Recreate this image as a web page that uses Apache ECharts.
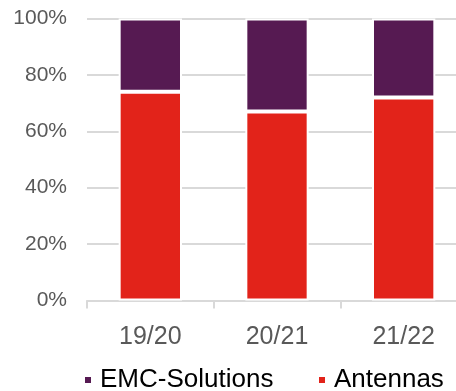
<!DOCTYPE html>
<html>
<head>
<meta charset="utf-8">
<script src="https://cdn.jsdelivr.net/npm/echarts@6/dist/echarts.min.js"></script>
<style>
  html, body { margin: 0; padding: 0; background: #ffffff; }
  #chart { width: 456px; height: 391px; }
</style>
</head>
<body>
<div id="chart"></div>
<script>
// Fiscal years on the category axis
var categories = ['19/20', '20/21', '21/22'];
// Revenue share per segment, in percent
var antennas = [74, 67, 72];
var emcSolutions = [26, 33, 28];
// Value axis ticks
var yTicks = [0, 20, 40, 60, 80, 100];

var FONT = '"Liberation Sans", Arial, sans-serif';
var RED = '#e2231a';
var PURPLE = '#561a52';

var chart = echarts.init(document.getElementById('chart'), null, { renderer: 'canvas' });

function legendItem(name, left) {
  return {
    data: [{ name: name, icon: 'rect' }],
    left: left, top: 367,
    padding: 0,
    itemWidth: 8, itemHeight: 8,
    textStyle: { fontFamily: FONT, fontSize: 26, color: '#000000', padding: [0, 0, 0, 3] },
    selectedMode: false
  };
}

chart.setOption({
  animation: false,
  backgroundColor: '#ffffff',
  textStyle: { fontFamily: FONT },
  // plot area runs a little past the right edge of the canvas
  grid: { left: 87, top: 18.5, width: 380, height: 282, containLabel: false, outerBoundsMode: 'none' },
  legend: [legendItem('EMC-Solutions', 83), legendItem('Antennas', 317)],
  xAxis: {
    type: 'category',
    data: categories,
    axisLine: { show: true, lineStyle: { color: '#d9d9d9', width: 2 } },
    axisTick: { show: true, length: 8, lineStyle: { color: '#d9d9d9', width: 2 } },
    axisLabel: { fontFamily: FONT, fontSize: 25, color: '#595959', margin: 24 }
  },
  yAxis: {
    type: 'value',
    min: yTicks[0],
    max: yTicks[yTicks.length - 1],
    interval: yTicks[1] - yTicks[0],
    axisLine: { show: false },
    axisTick: { show: false },
    splitLine: { show: true, lineStyle: { color: '#d9d9d9', width: 2 } },
    axisLabel: { fontFamily: FONT, fontSize: 21, color: '#595959', margin: 20, formatter: '{value}%' }
  },
  series: [
    {
      name: 'Antennas',
      type: 'bar',
      stack: 'share',
      barWidth: '50%',
      data: antennas,
      itemStyle: { color: RED, borderColor: '#ffffff', borderWidth: 2 }
    },
    {
      name: 'EMC-Solutions',
      type: 'bar',
      stack: 'share',
      barWidth: '50%',
      data: emcSolutions,
      itemStyle: { color: PURPLE, borderColor: '#ffffff', borderWidth: 2 }
    }
  ]
});
</script>
</body>
</html>
